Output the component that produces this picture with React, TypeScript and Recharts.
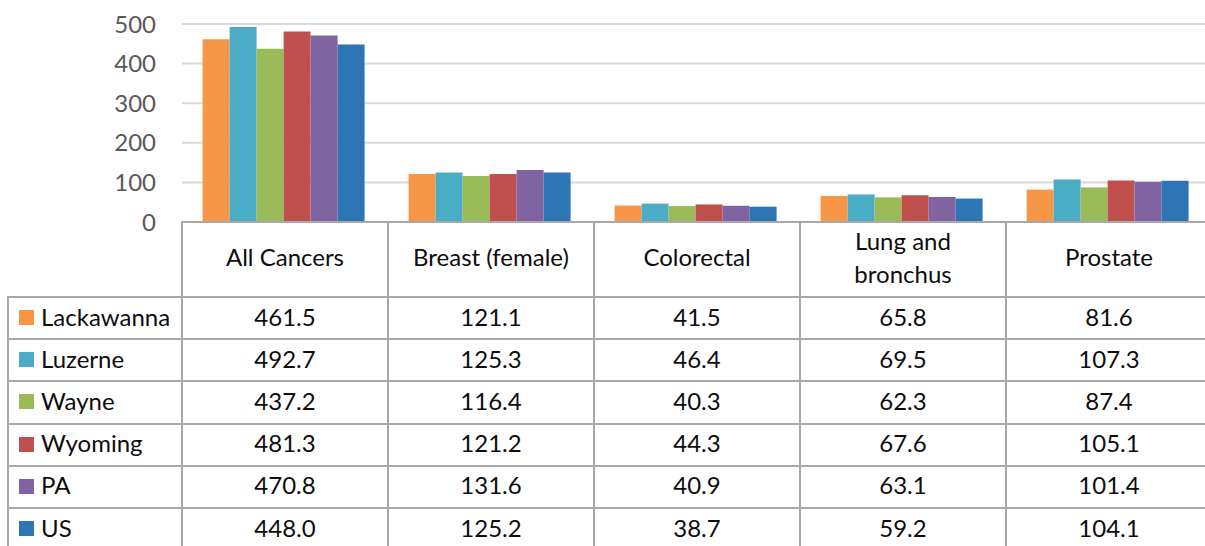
import React from "react";
import { BarChart, Bar, XAxis, YAxis, CartesianGrid } from "recharts";

const categories = ["All Cancers", "Breast (female)", "Colorectal", "Lung and bronchus", "Prostate"];
const categoryLabels = ["All Cancers", "Breast (female)", "Colorectal", "Lung and\nbronchus", "Prostate"];
const seriesNames = ["Lackawanna", "Luzerne", "Wayne", "Wyoming", "PA", "US"];
const seriesColors = ["#F79646", "#4BACC6", "#9BBB59", "#C0504D", "#8064A2", "#2E75B6"];
const lackawanna = [461.5, 121.1, 41.5, 65.8, 81.6];
const luzerne = [492.7, 125.3, 46.4, 69.5, 107.3];
const wayne = [437.2, 116.4, 40.3, 62.3, 87.4];
const wyoming = [481.3, 121.2, 44.3, 67.6, 105.1];
const pa = [470.8, 131.6, 40.9, 63.1, 101.4];
const us = [448.0, 125.2, 38.7, 59.2, 104.1];
const yTicks = [0, 100, 200, 300, 400, 500];

const seriesValues = [lackawanna, luzerne, wayne, wyoming, pa, us];

const data = categories.map((c, i) => {
  const row: Record<string, string | number> = { category: c };
  seriesNames.forEach((s, j) => {
    row[s] = seriesValues[j][i];
  });
  return row;
});

const FONT = "Lato, 'Open Sans', sans-serif";
const LINE = "#a8a8a8";
const PLOT_LEFT = 182;
const COL_W = 206;
const LEG_LEFT = 8;
const AXIS_Y = 222;
const HEADER_H = 75;
const ROW_H = 42.2;
const CHART_W = PLOT_LEFT + COL_W * categories.length;
const TEXT = "#0d0d0d";
const FS = 24;

export default function App() {
  const rowTop = (i: number) => AXIS_Y + HEADER_H + i * ROW_H;
  const lines: React.ReactNode[] = [];
  lines.push(
    <div key="h-axis" style={{ position: "absolute", left: PLOT_LEFT - 1, top: AXIS_Y - 1, width: CHART_W - PLOT_LEFT + 2, height: 2, background: LINE }} />
  );
  seriesNames.forEach((_, i) => {
    lines.push(
      <div key={"h" + i} style={{ position: "absolute", left: LEG_LEFT - 1, top: rowTop(i) - 1, width: CHART_W - LEG_LEFT + 2, height: 2, background: LINE }} />
    );
  });
  lines.push(
    <div key="v-leg" style={{ position: "absolute", left: LEG_LEFT - 1, top: rowTop(0) - 1, width: 2, height: 600, background: LINE }} />
  );
  categories.forEach((_, i) => {
    lines.push(
      <div key={"v" + i} style={{ position: "absolute", left: PLOT_LEFT + i * COL_W - 1, top: AXIS_Y - 1, width: 2, height: 600, background: LINE }} />
    );
  });

  const cellBase: React.CSSProperties = {
    position: "absolute",
    display: "flex",
    alignItems: "center",
    fontSize: FS,
    color: TEXT,
    boxSizing: "border-box",
    paddingBottom: 4,
  };

  return (
    <div style={{ position: "fixed", left: 0, top: 0, width: 1205, height: 546, overflow: "hidden", background: "#fff", fontFamily: FONT }}>
      <div style={{ position: "absolute", left: 0, top: 0 }}>
        <BarChart
          width={CHART_W}
          height={240}
          data={data}
          margin={{ top: 24, right: 0, bottom: 18, left: 0 }}
          barCategoryGap="10%"
          barGap={0}
        >
          <CartesianGrid vertical={false} stroke="#d9d9d9" strokeWidth={2} />
          <XAxis dataKey="category" hide />
          <YAxis
            domain={[0, 500]}
            ticks={yTicks}
            interval={0}
            axisLine={false}
            tickLine={false}
            width={PLOT_LEFT}
            tickMargin={20}
            tick={{ fill: "#595959", fontSize: FS, fontFamily: FONT }}
          />
          {seriesNames.map((s, j) => (
            <Bar key={s} dataKey={s} fill={seriesColors[j]} isAnimationActive={false} />
          ))}
        </BarChart>
      </div>
      {lines}
      {categoryLabels.map((lab, i) => (
        <div
          key={"hdr" + i}
          style={{
            ...cellBase,
            left: PLOT_LEFT + i * COL_W,
            top: AXIS_Y,
            width: COL_W,
            height: HEADER_H,
            justifyContent: "center",
            textAlign: "center",
            whiteSpace: "pre-line",
            lineHeight: "33px",
            paddingBottom: 6,
          }}
        >
          {lab}
        </div>
      ))}
      {seriesNames.map((s, j) => (
        <React.Fragment key={"row" + s}>
          <div
            style={{
              ...cellBase,
              left: LEG_LEFT,
              top: rowTop(j),
              width: PLOT_LEFT - LEG_LEFT,
              height: ROW_H,
              whiteSpace: "nowrap",
            }}
          >
            <span style={{ display: "inline-block", flex: "none", width: 15, height: 15, background: seriesColors[j], marginLeft: 11, marginRight: 7, marginTop: 3 }} />
            {s}
          </div>
          {seriesValues[j].map((v, i) => (
            <div
              key={"c" + i}
              style={{
                ...cellBase,
                left: PLOT_LEFT + i * COL_W,
                top: rowTop(j),
                width: COL_W,
                height: ROW_H,
                justifyContent: "center",
              }}
            >
              {v.toFixed(1)}
            </div>
          ))}
        </React.Fragment>
      ))}
    </div>
  );
}
